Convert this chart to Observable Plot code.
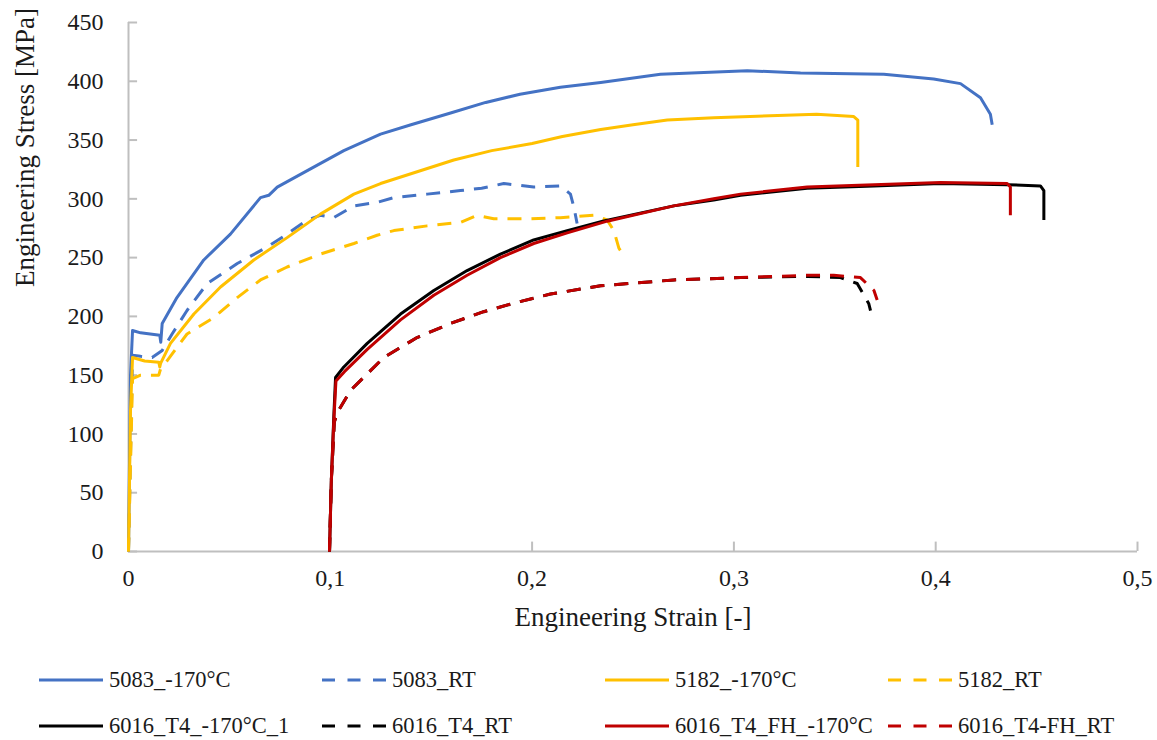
<!DOCTYPE html>
<html><head><meta charset="utf-8">
<script src="https://cdn.jsdelivr.net/npm/d3@7"></script>
<script src="https://cdn.jsdelivr.net/npm/@observablehq/plot@0.6"></script>
<style>
body{margin:0;background:#fff;font-family:"Liberation Serif","Times New Roman","DejaVu Serif",serif;}
#legend{position:relative;width:1157px;height:90px;}
.item{position:absolute;display:flex;align-items:center;font-size:22.5px;color:#1a1a1a;white-space:nowrap;height:30px;}
.item svg{margin-right:6px;}
</style></head><body><div id="chart"></div><div id="legend"></div>
<script>
const xTicks = [0, 0.1, 0.2, 0.3, 0.4, 0.5];
const yTicks = [0, 50, 100, 150, 200, 250, 300, 350, 400, 450];
const xTitle = "Engineering Strain [-]";
const yTitle = "Engineering Stress [MPa]";

const c5083_m170 = [[0,0],[0.001,150],[0.002,188],[0.006,186],[0.0155,184],[0.016,178],[0.0167,194],[0.024,216],[0.0373,248],[0.0505,270],[0.0654,301],[0.0695,303],[0.0737,310],[0.0886,324],[0.1067,341],[0.1249,355],[0.14,363],[0.1596,373],[0.177,382],[0.194,389],[0.214,395],[0.234,399],[0.2636,406],[0.3066,409],[0.333,407],[0.3743,406],[0.399,402],[0.4123,398],[0.4222,386],[0.4271,372],[0.428,363]];
const c5083_RT = [[0,0],[0.002,167],[0.006,166],[0.0117,165],[0.0167,171],[0.0216,185],[0.029,205],[0.039,228],[0.0539,245],[0.0687,259],[0.0786,270],[0.0886,282],[0.095,286],[0.1017,284],[0.1117,294],[0.1232,297],[0.1315,301],[0.148,304],[0.1645,307],[0.175,309],[0.186,313],[0.2008,310],[0.214,311],[0.219,304],[0.2207,293],[0.2223,279]];
const c5182_m170 = [[0,0],[0.001,120],[0.002,165],[0.008,162],[0.015,161],[0.0155,157],[0.0159,160],[0.0208,177],[0.0324,202],[0.0456,225],[0.0621,248],[0.0786,267],[0.0951,287],[0.1117,304],[0.1249,313],[0.1612,333],[0.18,341],[0.2,347],[0.215,353],[0.234,359],[0.25,363],[0.267,367],[0.29,369],[0.308,370],[0.341,372],[0.3594,370],[0.3614,367],[0.3614,327]];
const c5182_RT = [[0,0],[0.002,147],[0.006,150],[0.015,150],[0.016,156],[0.019,162],[0.029,185],[0.0423,199],[0.0539,216],[0.0654,231],[0.0786,242],[0.0951,253],[0.1117,262],[0.1232,269],[0.1315,273],[0.148,277],[0.1645,280],[0.1728,286],[0.181,283],[0.1976,283],[0.214,284],[0.2306,286],[0.2372,282],[0.2405,273],[0.243,258],[0.2438,256]];
const c6016_m170 = [[0.0996,0],[0.1005,60],[0.1017,113],[0.1026,148],[0.1067,157],[0.1183,177],[0.1348,202],[0.1513,222],[0.1678,239],[0.1843,253],[0.2008,265],[0.2174,273],[0.235,281],[0.2702,294],[0.29,299],[0.3033,303],[0.3363,309],[0.3694,311],[0.4024,313],[0.4354,312],[0.4519,311],[0.4536,307],[0.4536,282]];
const c6016_RT = [[0.0996,0],[0.1005,60],[0.102,110],[0.1034,118],[0.11,137],[0.1265,165],[0.143,182],[0.1596,194],[0.176,204],[0.1926,212],[0.2091,219],[0.2339,226],[0.2702,231],[0.3033,233],[0.3363,234],[0.3528,233],[0.3611,228],[0.3668,211],[0.3677,205]];
const c6016FH_m170 = [[0.0996,0],[0.1005,60],[0.1017,110],[0.1028,145],[0.107,153],[0.1183,172],[0.1348,197],[0.1513,218],[0.1678,235],[0.1843,250],[0.2008,262],[0.2174,271],[0.2372,281],[0.2702,294],[0.29,300],[0.3033,304],[0.3363,310],[0.3694,312],[0.4024,314],[0.4354,313],[0.437,310],[0.437,286]];
const c6016FH_RT = [[0.0996,0],[0.1005,60],[0.102,110],[0.1034,118],[0.11,137],[0.1265,165],[0.143,182],[0.1596,194],[0.176,204],[0.1926,212],[0.2091,219],[0.2339,226],[0.2702,231],[0.3033,233],[0.3363,235],[0.3495,235],[0.3627,233],[0.3694,222],[0.371,214]];

const seriesNames = ["5083_-170°C","5083_RT","5182_-170°C","5182_RT","6016_T4_-170°C_1","6016_T4_RT","6016_T4_FH_-170°C","6016_T4-FH_RT"];
const seriesData = [c5083_m170, c5083_RT, c5182_m170, c5182_RT, c6016_m170, c6016_RT, c6016FH_m170, c6016FH_RT];
const seriesColors = ["#4472C4","#4472C4","#FFC000","#FFC000","#000000","#000000","#C00000","#C00000"];
const seriesDashed = [false,true,false,true,false,true,false,true];

const DASH = "14,10";
const fmt = d => d === 0 ? "0" : String(d).replace(".", ",");
const axisColor = "#bfbfbf";
const font = "Liberation Serif, Times New Roman, DejaVu Serif, serif";

const lineMarks = seriesData.map((data, i) => Plot.line(data, {
  x: d => d[0], y: d => d[1], stroke: seriesColors[i], strokeWidth: 3,
  strokeDasharray: seriesDashed[i] ? DASH : null, strokeLinejoin: "round", strokeLinecap: "butt"
}));

const chart = Plot.plot({
  width: 1157, height: 650,
  marginLeft: 128, marginRight: 20, marginTop: 22, marginBottom: 99,
  style: {fontFamily: font, fontSize: "24px", color: "#1a1a1a", background: "#fff"},
  x: {domain: [0, 0.5]},
  y: {domain: [0, 450]},
  marks: [
    Plot.ruleX([0], {stroke: axisColor, strokeWidth: 2}),
    Plot.ruleY([0], {stroke: axisColor, strokeWidth: 2}),
    Plot.ruleY(yTicks, {x1: 0, x2: 0.0045, stroke: axisColor, strokeWidth: 2}),
    Plot.ruleX(xTicks, {y1: 0, y2: 8, stroke: axisColor, strokeWidth: 2}),
    Plot.axisX({ticks: xTicks, tickFormat: fmt, tickSize: 0, tickPadding: 17, label: null, fontFamily: font}),
    Plot.axisY({ticks: yTicks, tickSize: 0, tickPadding: 25, label: null, fontFamily: font}),
    ...lineMarks,
    Plot.text([xTitle], {text: d => d, frameAnchor: "bottom", dy: 74, fontSize: 27, fill: "#1a1a1a", fontFamily: font}),
    Plot.text([yTitle], {text: d => d, frameAnchor: "left", dx: -103, rotate: -90, fontSize: 27, fill: "#1a1a1a", fontFamily: font})
  ]
});
chart.style.fontFamily = font;
document.getElementById("chart").appendChild(chart);

// legend
const legend = document.getElementById("legend");
const colX = [39, 322, 605, 888];
const rowTop = [15, 61];
seriesNames.forEach((name, i) => {
  const item = document.createElement("div");
  item.className = "item";
  item.style.left = colX[i % 4] + "px";
  item.style.top = rowTop[Math.floor(i / 4)] + "px";
  const ns = "http://www.w3.org/2000/svg";
  const sw = document.createElementNS(ns, "svg");
  sw.setAttribute("width", 64); sw.setAttribute("height", 10);
  const ln = document.createElementNS(ns, "line");
  ln.setAttribute("x1", 0); ln.setAttribute("x2", 64); ln.setAttribute("y1", 5); ln.setAttribute("y2", 5);
  ln.setAttribute("stroke", seriesColors[i]); ln.setAttribute("stroke-width", 3);
  if (seriesDashed[i]) ln.setAttribute("stroke-dasharray", "13,12.5");
  sw.appendChild(ln);
  item.appendChild(sw);
  const t = document.createElement("span");
  t.textContent = name;
  item.appendChild(t);
  legend.appendChild(item);
});
</script></body></html>
